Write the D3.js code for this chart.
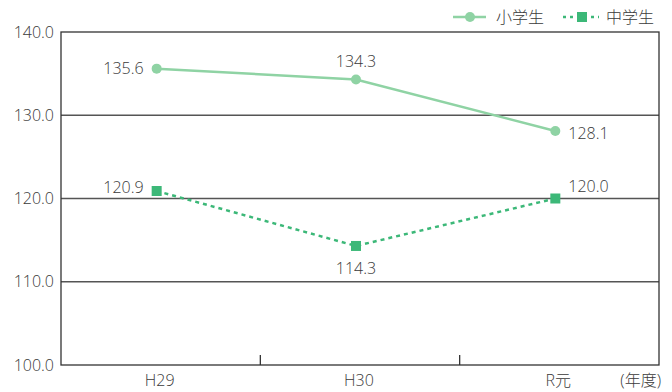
<!DOCTYPE html>
<html>
<head>
<meta charset="utf-8">
<script src="https://cdn.jsdelivr.net/npm/d3@7"></script>
<style>
  body { margin: 0; background: #fff; }
  text { font-family: "Open Sans", "Noto Sans CJK JP", sans-serif; font-weight: 300; fill: #3a3a3a; }
</style>
</head>
<body>
<script>
var categories = ["H29", "H30", "R元"];
var elementary = [135.6, 134.3, 128.1];
var juniorHigh = [120.9, 114.3, 120.0];
var yTicks = [100, 110, 120, 130, 140];
var seriesNames = ["小学生", "中学生"];

var width = 672, height = 392,
  plotLeft = 61, plotRight = 659, plotTop = 32, plotBottom = 365,
  lightGreen = "#8fd3a4",
  darkGreen = "#3cb878",
  gridColor = "#555555",
  fontSize = "16px";

var svg = d3.select("body").append("svg")
  .attr("width", width)
  .attr("height", height);

var x = d3.scaleBand()
  .domain(categories)
  .range([plotLeft, plotRight]);

var y = d3.scaleLinear()
  .domain([100, 140])
  .range([plotBottom, plotTop]);

function cx(d) { return x(d) + x.bandwidth() / 2 - 4; }

// gridlines
svg.append("g")
  .selectAll("line")
  .data(yTicks.slice(1, 4))
  .enter().append("line")
  .attr("x1", plotLeft)
  .attr("x2", plotRight)
  .attr("y1", function(d) { return y(d); })
  .attr("y2", function(d) { return y(d); })
  .attr("stroke", gridColor)
  .attr("stroke-width", 1.5);

// frame
svg.append("rect")
  .attr("x", plotLeft)
  .attr("y", plotTop)
  .attr("width", plotRight - plotLeft)
  .attr("height", plotBottom - plotTop)
  .attr("fill", "none")
  .attr("stroke", "#333")
  .attr("stroke-width", 1.3);

// y labels
svg.append("g")
  .selectAll("text")
  .data(yTicks)
  .enter().append("text")
  .attr("x", plotLeft - 7)
  .attr("y", function(d) { return y(d); })
  .attr("dy", "0.35em")
  .attr("text-anchor", "end")
  .style("font-size", fontSize)
  .text(function(d) { return d.toFixed(1); });

// x ticks between categories
svg.append("g")
  .selectAll("line")
  .data(categories.slice(1))
  .enter().append("line")
  .attr("x1", function(d) { return x(d); })
  .attr("x2", function(d) { return x(d); })
  .attr("y1", plotBottom)
  .attr("y2", plotBottom - 10)
  .attr("stroke", "#333")
  .attr("stroke-width", 1.3);

svg.append("g")
  .selectAll("text")
  .data(categories)
  .enter().append("text")
  .attr("x", function(d) { return cx(d) + 3; })
  .attr("y", 380)
  .attr("dy", "0.35em")
  .attr("text-anchor", "middle")
  .style("font-size", fontSize)
  .text(function(d) { return d; });

svg.append("text")
  .attr("x", 661)
  .attr("y", 380)
  .attr("dy", "0.35em")
  .attr("text-anchor", "end")
  .style("font-size", fontSize)
  .text("(年度)");

var line = d3.line()
  .x(function(d, i) { return cx(categories[i]); })
  .y(function(d) { return y(d); });

// elementary
svg.append("path")
  .datum(elementary)
  .attr("d", line)
  .attr("fill", "none")
  .attr("stroke", lightGreen)
  .attr("stroke-width", 2.5);

svg.append("g")
  .selectAll("circle")
  .data(elementary)
  .enter().append("circle")
  .attr("cx", function(d, i) { return cx(categories[i]); })
  .attr("cy", function(d) { return y(d); })
  .attr("r", 5)
  .attr("fill", lightGreen);

// junior high
svg.append("path")
  .datum(juniorHigh)
  .attr("d", line)
  .attr("fill", "none")
  .attr("stroke", darkGreen)
  .attr("stroke-width", 2.5)
  .attr("stroke-dasharray", "4,4");

svg.append("g")
  .selectAll("rect")
  .data(juniorHigh)
  .enter().append("rect")
  .attr("x", function(d, i) { return cx(categories[i]) - 5; })
  .attr("y", function(d) { return y(d) - 5; })
  .attr("width", 10)
  .attr("height", 10)
  .attr("fill", darkGreen);

// value labels: [dx, dy, anchor]
var elemPos = [[-13, 0, "end"], [0, -18, "middle"], [13, 2, "start"]];
var juniorPos = [[-13, -4, "end"], [0, 22, "middle"], [13, -12, "start"]];

function labels(data, pos) {
  svg.append("g")
    .selectAll("text")
    .data(data)
    .enter().append("text")
    .attr("x", function(d, i) { return cx(categories[i]) + pos[i][0]; })
    .attr("y", function(d, i) { return y(d) + pos[i][1]; })
    .attr("dy", "0.35em")
    .attr("text-anchor", function(d, i) { return pos[i][2]; })
    .style("font-size", fontSize)
    .text(function(d) { return d.toFixed(1); });
}
labels(elementary, elemPos);
labels(juniorHigh, juniorPos);

// legend
var lg = svg.append("g");
lg.append("line")
  .attr("x1", 453).attr("x2", 486).attr("y1", 17).attr("y2", 17)
  .attr("stroke", lightGreen).attr("stroke-width", 2.5);
lg.append("circle")
  .attr("cx", 470).attr("cy", 17).attr("r", 5).attr("fill", lightGreen);
lg.append("text")
  .attr("x", 496).attr("y", 17).attr("dy", "0.35em")
  .style("font-size", fontSize).text(seriesNames[0]);
lg.append("line")
  .attr("x1", 563).attr("x2", 599).attr("y1", 17).attr("y2", 17)
  .attr("stroke", darkGreen).attr("stroke-width", 2.5)
  .attr("stroke-dasharray", "3,4");
lg.append("rect")
  .attr("x", 577).attr("y", 12).attr("width", 10).attr("height", 10)
  .attr("fill", darkGreen);
lg.append("text")
  .attr("x", 606).attr("y", 17).attr("dy", "0.35em")
  .style("font-size", fontSize).text(seriesNames[1]);
</script>
</body>
</html>
